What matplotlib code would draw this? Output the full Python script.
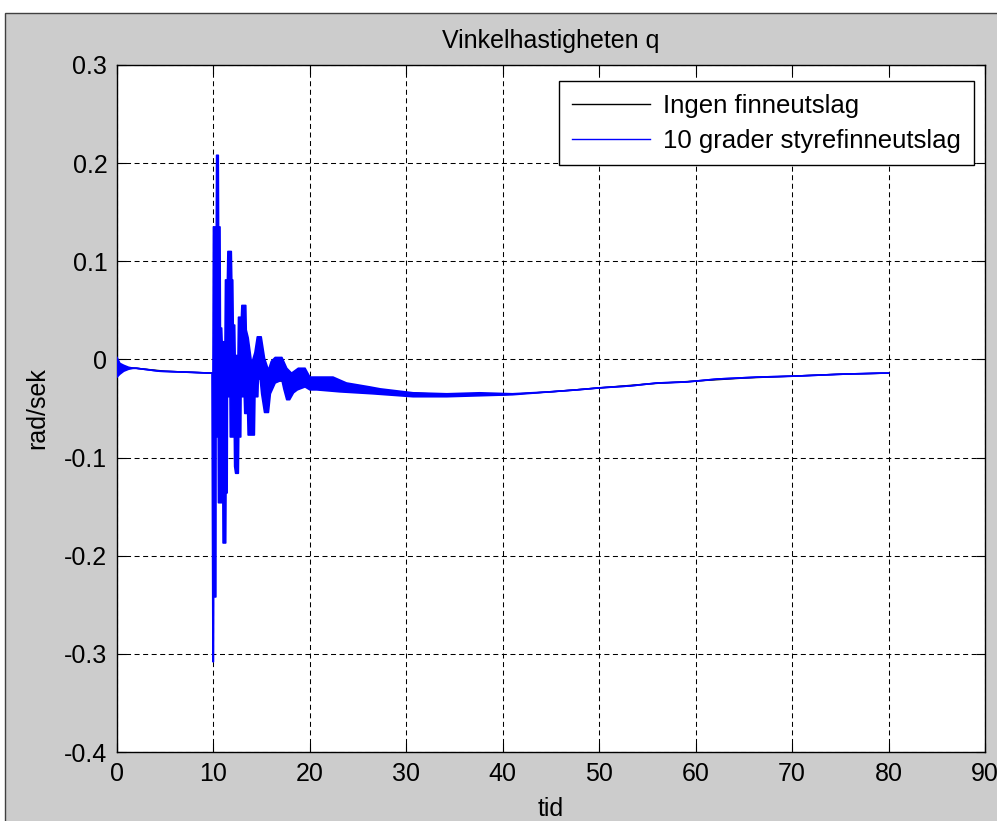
import numpy as np
import matplotlib
matplotlib.use("Agg")
import matplotlib.pyplot as plt
from matplotlib.patches import Rectangle

plt.rcParams['font.family'] = ['Liberation Sans', 'DejaVu Sans']

# ---------------- data ----------------
title = "Vinkelhastigheten q"
xlabel = "tid"
ylabel = "rad/sek"
series_names = ["Ingen finneutslag", "10 grader styrefinneutslag"]

xticks = [0, 10, 20, 30, 40, 50, 60, 70, 80, 90]
yticks = [-0.4, -0.3, -0.2, -0.1, 0.0, 0.1, 0.2, 0.3]
ytick_labels = ["-0.4", "-0.3", "-0.2", "-0.1", "0", "0.1", "0.2", "0.3"]

# reference run (no fin deflection) - hidden under the blue curve
t_ref = [0, 2, 5, 10, 15, 20, 25, 30, 35, 40, 45, 50, 55, 60, 65, 70, 75, 80]
q_ref = [-0.008, -0.009, -0.012, -0.014, -0.020, -0.025, -0.030, -0.034, -0.036,
         -0.036, -0.033, -0.029, -0.025, -0.022, -0.019, -0.017, -0.015, -0.014]

# 10 deg fin deflection: upper / lower envelope of the oscillating response
t_start = [0.0, 0.3, 0.7, 1.2, 1.7]
q_start_up = [0.002, -0.004, -0.006, -0.008, -0.009]
q_start_lo = [-0.018, -0.015, -0.012, -0.010, -0.009]

t_pre = [2.0, 4.4, 7.3, 9.85]
q_pre = [-0.009, -0.012, -0.013, -0.014]

t_osc_up = [9.95, 10.0, 10.3, 10.33, 10.5, 10.53, 10.68, 10.72, 10.85, 10.9, 11.2,
            11.25, 11.45, 11.5, 11.85, 11.9, 12.0, 12.05, 12.2, 12.25, 12.55, 12.6,
            12.9, 12.95, 13.35, 13.4, 13.6, 13.9, 14.0, 14.3, 14.55, 14.95, 15.3,
            15.7, 16.0, 16.4, 17.1, 17.6, 18.1, 18.8, 19.5, 20.0, 22.4, 23.8, 26.2,
            27.3, 30.7, 34.2, 37.6, 41.0]
q_osc_up = [-0.014, 0.135, 0.135, 0.208, 0.208, 0.135, 0.135, 0.032, 0.032, 0.018, 0.018,
            0.081, 0.081, 0.110, 0.110, 0.081, 0.081, 0.035, 0.035, 0.004, 0.004, 0.043,
            0.043, 0.055, 0.055, 0.030, 0.022, 0.000, -0.003, 0.007, 0.023, 0.023, 0.001,
            -0.011, -0.002, 0.002, 0.002, -0.009, -0.014, -0.009, -0.009, -0.018, -0.018,
            -0.024, -0.028, -0.030, -0.034, -0.035, -0.034, -0.035]

t_osc_lo = [9.95, 10.0, 10.02, 10.25, 10.27, 10.5, 10.52, 10.98, 11.0, 11.27, 11.3,
            11.42, 11.45, 11.72, 11.75, 12.17, 12.2, 12.3, 12.58, 12.62, 12.83, 12.86,
            13.2, 13.25, 13.55, 13.6, 14.24, 14.3, 14.6, 14.65, 14.85, 15.0, 15.3, 15.7,
            15.9, 16.4, 17.1, 17.3, 17.6, 17.9, 18.3, 18.7, 19.5, 20.0, 20.7, 23.1,
            26.5, 30.7, 34.2, 37.6, 41.0]
q_osc_lo = [-0.308, -0.308, -0.242, -0.242, -0.079, -0.079, -0.146, -0.146, -0.187, -0.187, -0.136,
            -0.136, -0.038, -0.038, -0.079, -0.079, -0.109, -0.116, -0.116, -0.079, -0.079, -0.038,
            -0.038, -0.055, -0.055, -0.077, -0.077, -0.038, -0.038, -0.020, -0.020, -0.035, -0.054,
            -0.054, -0.035, -0.024, -0.021, -0.030, -0.041, -0.041, -0.034, -0.031, -0.028,
            -0.031, -0.031, -0.033, -0.035, -0.038, -0.038, -0.037, -0.036]

t_tail = [44.9, 47.7, 50.0, 53.2, 56.0, 59.0, 62.2, 66.4, 70.3, 75.3, 79.1, 80.0]
q_tail = [-0.033, -0.031, -0.029, -0.027, -0.024, -0.023, -0.020, -0.018, -0.017,
          -0.015, -0.014, -0.014]

# ---------------- figure ----------------
W, H = 997, 821
fig = plt.figure(figsize=(W / 100, H / 100), dpi=100, facecolor='white')
panel = Rectangle((5 / W, -0.05), 1.2, 1 - 13 / H + 0.05, transform=fig.transFigure,
                  facecolor='#cccccc', edgecolor='#404040', linewidth=1.0, zorder=-10)
fig.patches.append(panel)

ax = fig.add_axes([117 / W, 1 - 752 / H, (985 - 117) / W, (752 - 65) / H])
ax.set_facecolor('white')

t_up = np.array(t_start + t_pre + t_osc_up + t_tail)
q_up = np.array(q_start_up + q_pre + q_osc_up + q_tail)
t_lo = np.array(t_start + t_pre + t_osc_lo + t_tail)
q_lo = np.array(q_start_lo + q_pre + q_osc_lo + q_tail)

blue = '#0000ff'
ax.plot(t_ref, q_ref, color='black', lw=1.0, label=series_names[0], zorder=2)
ax.fill(np.concatenate([t_up, t_lo[::-1]]), np.concatenate([q_up, q_lo[::-1]]),
        facecolor=blue, edgecolor='none', zorder=3)
ax.plot(t_up, q_up, color=blue, lw=1.2, label=series_names[1], zorder=4)
ax.plot(t_lo, q_lo, color=blue, lw=1.2, zorder=4)

ax.set_xlim(0, 90)
ax.set_ylim(-0.4, 0.3)
ax.set_xticks(xticks)
ax.set_xticklabels([str(v) for v in xticks])
ax.set_yticks(yticks)
ax.set_yticklabels(ytick_labels)

fs = 18
ax.grid(True, color='black', linestyle=(0, (4.8, 3.4)), linewidth=0.75)
ax.set_axisbelow(False)
ax.tick_params(direction='in', length=6.5, width=0.8, top=True, right=True,
               labelsize=fs, pad=7, colors='black')
for s in ax.spines.values():
    s.set_linewidth(1.0)
    s.set_color('black')

ax.set_title(title, fontsize=fs, pad=12)
ax.set_xlabel(xlabel, fontsize=fs, labelpad=8)
ax.set_ylabel(ylabel, fontsize=fs, labelpad=11)

leg = ax.legend(loc='upper right', bbox_to_anchor=(974 / W, 1 - 81 / H),
                bbox_transform=fig.transFigure, borderaxespad=0, fontsize=18.5,
                fancybox=False, framealpha=1, edgecolor='black', handlelength=3.05,
                handletextpad=0.5, borderpad=0.5, labelspacing=0.42)
leg.get_frame().set_linewidth(1.0)
for h in leg.get_lines():
    h.set_linewidth(1.0)

fig.savefig('out.png', dpi=100, facecolor='white')
